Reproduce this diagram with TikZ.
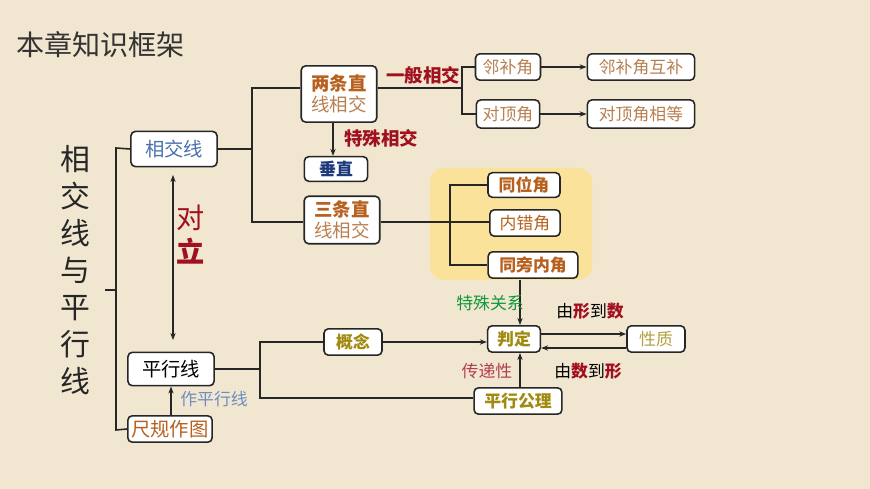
\documentclass[tikz,border=0pt]{standalone}
\usepackage{fontspec}
\setmainfont{Noto Sans CJK SC}
\usetikzlibrary{arrows.meta}
\definecolor{bg}{HTML}{F1E7D0}
\definecolor{hl}{HTML}{FBE29A}
\definecolor{dred}{HTML}{A01020}
\definecolor{org}{HTML}{B8601E}
\definecolor{lorg}{HTML}{B88050}
\definecolor{olive}{HTML}{A08A10}
\definecolor{blu}{HTML}{4A70B0}
\definecolor{dblu}{HTML}{1F3A7A}
\definecolor{grn}{HTML}{10983A}
\begin{document}
\begin{tikzpicture}[x=0.02cm,y=-0.02cm,
 bx/.style={draw=black!85,line width=0.9pt,rounded corners=2.5pt,fill=white,inner sep=0pt,font=\fontsize{9.6}{11}\selectfont},
 big/.style={font=\fontsize{11}{13}\selectfont},
 ln/.style={line width=0.9pt,draw=black!85},
 ar/.style={ln,-{Stealth[length=4pt]}},
 lab/.style={font=\fontsize{9.6}{11}\selectfont\bfseries}]
\fill[bg] (0,0) rectangle (870,489);
\useasboundingbox (0,0) rectangle (870,489);
\node[anchor=west,font=\fontsize{16}{18}\selectfont,text=black!80] (title) at (10,45) {本章知识框架};
\node[align=center,font=\fontsize{17}{21}\selectfont,text=black!85] (main) at (75,270) {相\\交\\线\\与\\平\\行\\线};
\fill[hl,rounded corners=8pt] (430,168) rectangle (592,280);
% boxes
\node[bx,big,minimum width=49pt,minimum height=20pt,text=blu] (xjx) at (174,149) {相交线};
\node[bx,big,minimum width=49pt,minimum height=19pt,text=black] (pxx) at (171,369) {平行线};
\node[bx,big,minimum width=48pt,minimum height=15pt,text=org] (cg) at (170,429) {尺规作图};
\node[bx,minimum width=43pt,minimum height=32pt,align=center,font=\fontsize{10.5}{12}\selectfont] (lt) at (339,94) {\textcolor{org}{\bfseries 两条直}\\\textcolor{lorg}{线相交}};
\node[bx,minimum width=43pt,minimum height=27pt,align=center,font=\fontsize{10.5}{12}\selectfont] (st) at (342,220) {\textcolor{org}{\bfseries 三条直}\\\textcolor{lorg}{线相交}};
\node[bx,minimum width=36pt,minimum height=14pt,text=dblu,font=\fontsize{9.6}{11}\selectfont\bfseries] (cz) at (336,169) {垂直};
\node[bx,minimum width=37pt,minimum height=15pt,text=lorg] (lb) at (508,67) {邻补角};
\node[bx,minimum width=36pt,minimum height=16pt,text=lorg] (dd) at (508,114) {对顶角};
\node[bx,minimum width=61pt,minimum height=15pt,text=lorg] (lbh) at (641,67) {邻补角互补};
\node[bx,minimum width=61pt,minimum height=16pt,text=lorg] (ddx) at (641,114) {对顶角相等};
\node[bx,minimum width=41pt,minimum height=14pt,text=org,font=\fontsize{9.6}{11}\selectfont\bfseries] (tw) at (524,185) {同位角};
\node[bx,minimum width=40pt,minimum height=15pt,text=org] (nc) at (525,223) {内错角};
\node[bx,minimum width=51pt,minimum height=15pt,text=org,font=\fontsize{9.6}{11}\selectfont\bfseries] (tp) at (533,265) {同旁内角};
\node[bx,minimum width=30pt,minimum height=15pt,text=olive,font=\fontsize{9.6}{11}\selectfont\bfseries] (pd) at (514,339) {判定};
\node[bx,minimum width=33pt,minimum height=15pt,text=olive!80] (xz) at (656,339) {性质};
\node[bx,minimum width=33pt,minimum height=15pt,text=olive,font=\fontsize{9.6}{11}\selectfont\bfseries] (gn) at (353,342) {概念};
\node[bx,minimum width=50pt,minimum height=15pt,text=olive,font=\fontsize{9.6}{11}\selectfont\bfseries] (gl) at (518,401) {平行公理};
% brace
\draw[ln] (xjx.west) -- (116,148) -- (116,430) -- (cg.west);
\draw[ln] (105,290) -- (116,290);
% opposition
\draw[ln,{Stealth[length=4pt]}-{Stealth[length=4pt]}] (173,175) -- (173,340);
\node[text=dred,font=\fontsize{16}{18}\selectfont] (dui) at (191,218) {对};
\node[text=dred,font=\fontsize{16}{18}\selectfont\bfseries] (li) at (191,251) {立};
% intersecting tree
\draw[ln] (xjx.east) -- (252,149);
\draw[ln] (lt.west|-0,88) -- (252,88) -- (252,222) -- (st.west|-0,222);
\draw[ar] (lt.south-|333,0) -- (cz.north-|333,0);
\node[lab,text=dred,anchor=west,font=\fontsize{10.5}{12}\selectfont\bfseries] (tsxj) at (338,138) {特殊相交};
\draw[ln] (lt.east|-0,88) -- (462,88);
\draw[ln] (lb.west) -- (462,67) -- (462,114) -- (dd.west);
\node[lab,text=dred,font=\fontsize{10.5}{12}\selectfont\bfseries] (ybxj) at (423,75) {一般相交};
\draw[ar] (lb) -- (lbh);
\draw[ar] (dd) -- (ddx);
% three lines tree
\draw[ln] (st.east|-0,222) -- (nc.west|-0,222);
\draw[ln] (tw.west) -- (450,185) -- (450,265) -- (tp.west);
% parallel
\draw[ar] (520,280) -- (pd.north-|520,0);
\node[text=grn,font=\fontsize{9.6}{11}\selectfont] (tsgx) at (490,303) {特殊关系};
\draw[ar] (pd.east|-0,334) -- (xz.west|-0,334);
\draw[ar] (xz.west|-0,348) -- (pd.east|-0,348);
\node[font=\fontsize{9.6}{11}\selectfont] (xs) at (590,311) {由\textcolor{dred}{\bfseries 形}到\textcolor{dred}{\bfseries 数}};
\node[font=\fontsize{9.6}{11}\selectfont] (sx) at (588,371) {由\textcolor{dred}{\bfseries 数}到\textcolor{dred}{\bfseries 形}};
\draw[ln] (pxx.east) -- (260,369);
\draw[ln] (gn.west) -- (260,342) -- (260,398) -- (gl.west|-0,398);
\draw[ar] (gn) -- (pd.west|-0,342);
\draw[ar] (gl.north-|520,0) -- (pd.south-|520,0);
\node[text=dred!80,font=\fontsize{9.6}{11}\selectfont] (cdx) at (487,371) {传递性};
\draw[ar] (cg.north-|171,0) -- (pxx.south-|171,0);
\node[text=blu!80,font=\fontsize{9.6}{11}\selectfont] (zpx) at (214,399) {作平行线};
\end{tikzpicture}
\end{document}
